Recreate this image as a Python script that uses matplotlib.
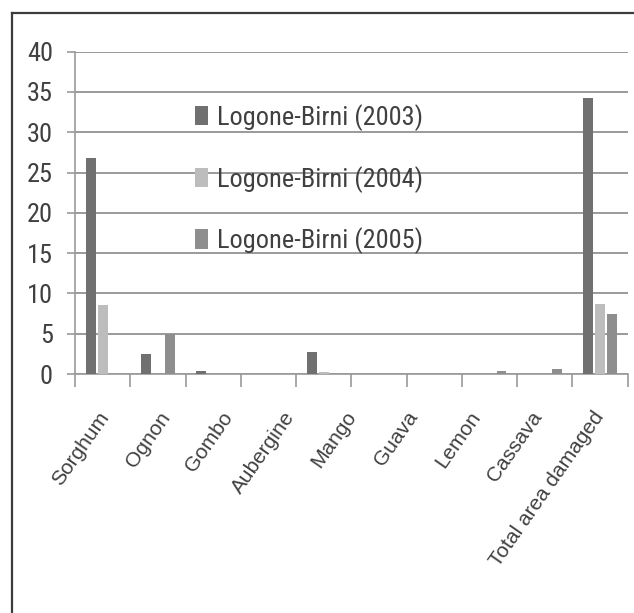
import numpy as np
import matplotlib
matplotlib.use("Agg")
import matplotlib.pyplot as plt
from matplotlib.lines import Line2D
from matplotlib import font_manager

# data (10 category slots, 9 labels printed)
labels = ["Sorghum", "Ognon", "Gombo", "Aubergine", "Mango", "Guava",
          "Lemon", "Cassava", "Total area damaged"]
y2003 = [26.8, 2.5, 0.4, 0.0, 2.7, 0.0, 0.0, 0.0, 0.0, 34.3]
y2004 = [8.6, 0.0, 0.05, 0.05, 0.3, 0.05, 0.0, 0.0, 0.05, 8.7]
y2005 = [0.0, 5.0, 0.0, 0.0, 0.0, 0.0, 0.0, 0.4, 0.6, 7.5]
series = ["Logone-Birni (2003)", "Logone-Birni (2004)", "Logone-Birni (2005)"]
colors = ["#707070", "#bdbdbd", "#8e8e8e"]

# pick a narrow face if one is installed
names = set(f.name for f in font_manager.fontManager.ttflist)
narrow = "Liberation Sans"
for cand in ["Liberation Sans Narrow", "Roboto Condensed", "Open Sans Condensed",
             "DejaVu Sans Condensed"]:
    if cand in names:
        narrow = cand
        break
is_narrow = narrow != "Liberation Sans"

W, H = 634, 613
fig = plt.figure(figsize=(W/100, H/100), dpi=100)
ax = fig.add_axes([75/W, (H-374)/H, (627.7-75)/W, (374-51.7)/H])

grid_c = "#9a9a9a"

n = len(y2003)
x = np.arange(n) + 0.5
bw = 0.18
step = 0.217
for k, vals in enumerate([y2003, y2004, y2005]):
    ax.bar(x + (k-1)*step, vals, width=bw, color=colors[k], label=series[k],
           zorder=3, linewidth=0)

ax.set_xlim(0, n)
ax.set_ylim(0, 40)
ax.set_yticks(np.arange(0, 41, 5))
ax.yaxis.grid(True, color=grid_c, linewidth=1.4, zorder=0)
ax.set_axisbelow(True)
for s in ["top", "right"]:
    ax.spines[s].set_visible(False)
for s in ["left", "bottom"]:
    ax.spines[s].set_color(grid_c)
    ax.spines[s].set_linewidth(1.2)
ax.tick_params(axis="y", length=6, width=1.2, color=grid_c, pad=10,
               labelsize=19 if is_narrow else 17, labelcolor="#404040")
for t in ax.get_yticklabels():
    t.set_family(narrow)
ax.set_xticks(np.arange(0, n+1))
ax.set_xticklabels([])
ax.tick_params(axis="x", length=9.5, width=1.2, color=grid_c)

# category labels (printed spacing differs from the tick spacing)
lab_x = (97 + 61.9*np.arange(len(labels)) - 75) / 55.27
for xi, lab in zip(lab_x, labels):
    ax.text(xi, -34/322.3, lab, transform=ax.get_xaxis_transform(),
            rotation=55, rotation_mode="anchor", ha="right", va="top",
            fontsize=15, color="#404040", family="Liberation Sans")

leg = ax.legend(loc="upper left", bbox_to_anchor=(195/W, (H-104)/H),
                bbox_transform=fig.transFigure, frameon=False,
                prop={"family": narrow, "size": 19 if is_narrow else 16.5},
                labelcolor="#404040",
                handlelength=0.5, handleheight=0.75, handletextpad=0.35,
                labelspacing=1.32, borderpad=0, borderaxespad=0)

# outer border of the original picture
fig.add_artist(Line2D([12/W, 1], [(H-13)/H, (H-13)/H], color="#3c3c3c", linewidth=1.6))
fig.add_artist(Line2D([12/W, 12/W], [0, (H-13)/H], color="#3c3c3c", linewidth=1.6))

fig.savefig("out.png", dpi=100)
